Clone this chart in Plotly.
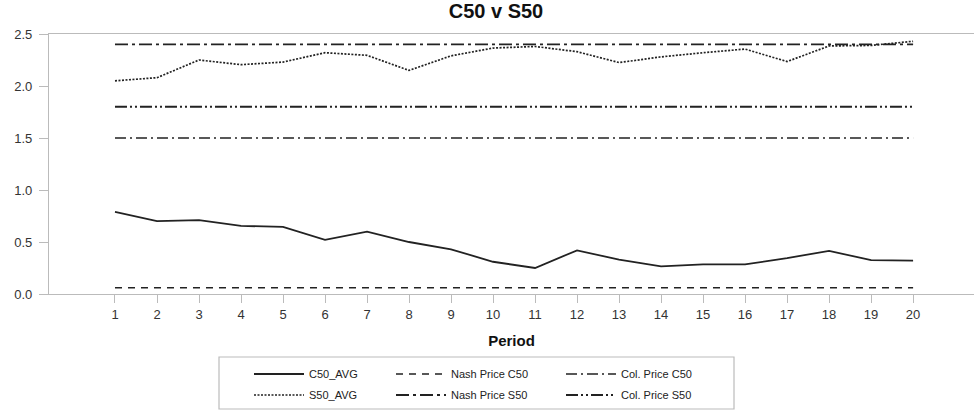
import plotly.graph_objects as go

periods = list(range(1, 21))
c50_avg = [0.79, 0.70, 0.71, 0.655, 0.645, 0.52, 0.60, 0.50, 0.43, 0.31,
           0.25, 0.42, 0.33, 0.265, 0.285, 0.285, 0.345, 0.415, 0.325, 0.32]
s50_avg = [2.05, 2.08, 2.25, 2.205, 2.23, 2.32, 2.295, 2.15, 2.29, 2.365,
           2.38, 2.33, 2.225, 2.28, 2.32, 2.355, 2.235, 2.385, 2.39, 2.43]
nash_c50 = 0.06
nash_s50 = 2.4
col_c50 = 1.5
col_s50 = 1.8

FONT = "Liberation Sans, Arial, sans-serif"
LC = "#222222"

W, H = 974, 412
ml, mr, mt, mb = 49, 0, 34, 118
pw = W - ml - mr
ph = H - mt - mb


def px_x(p):
    return (p - ml) / pw


def px_y(p):
    return (H - mb - p) / ph


# (name, values, dash, width, legend id, text-x px, row-y px)
series = [
    ("C50_AVG", c50_avg, "solid", 1.8, "legend", 310, 374),
    ("Nash Price C50", [nash_c50] * len(periods), "7px,6px", 1.7, "legend2", 452, 374),
    ("Col. Price C50", [col_c50] * len(periods), "11px,4px,2px,4px", 1.7, "legend3", 622, 374),
    ("S50_AVG", s50_avg, "2px,1.5px", 1.7, "legend4", 310, 395),
    ("Nash Price S50", [nash_s50] * len(periods), "13px,4px,3px,4px", 1.9, "legend5", 452, 395),
    ("Col. Price S50", [col_s50] * len(periods), "12px,3px,2px,3px,2px,3px", 1.9, "legend6", 622, 395),
]

fig = go.Figure()
legends = {}
for name, ys, dash, w, lg, tx, ty in series:
    fig.add_trace(go.Scatter(
        x=periods, y=ys, mode="lines", name=name, legend=lg,
        line=dict(color=LC, width=w, dash=dash),
    ))
    legends[lg] = dict(
        x=px_x(tx - 61), y=px_y(ty), xanchor="left", yanchor="middle",
        orientation="v", font=dict(family=FONT, size=11, color="#222"),
        bgcolor="rgba(0,0,0,0)", borderwidth=0, itemwidth=50,
    )

fig.update_layout(
    width=W, height=H,
    margin=dict(l=ml, r=mr, t=mt, b=mb),
    paper_bgcolor="white", plot_bgcolor="white",
    title=dict(text="<b>C50 v S50</b>", x=px_x(496) , xanchor="center",
               xref="paper", y=1 - 11 / H, yanchor="middle",
               font=dict(family=FONT, size=20, color="#111")),
    font=dict(family=FONT, size=13, color="#333"),
    xaxis=dict(
        range=[-0.571, 21.45], tickmode="array", tickvals=periods,
        ticktext=[str(p) for p in periods],
        showgrid=False, zeroline=False, showline=True, linecolor="#bbbbbb", linewidth=1.2,
        mirror=True, ticks="outside", ticklen=8, tickcolor="#bbbbbb",
        tickfont=dict(family=FONT, size=13, color="#333"),
        title=dict(text="<b>Period</b>", font=dict(family=FONT, size=15, color="#111"), standoff=14),
    ),
    yaxis=dict(
        range=[0, 2.5], tickmode="array", tickvals=[0, 0.5, 1.0, 1.5, 2.0, 2.5],
        tickformat=".1f", showgrid=False, zeroline=False, showline=True,
        linecolor="#bbbbbb", linewidth=1.2, ticks="outside", ticklen=9, tickcolor="#bbbbbb",
        tickfont=dict(family=FONT, size=13, color="#333"), ticklabelstandoff=4,
    ),
    showlegend=True,
    shapes=[dict(type="rect", xref="paper", yref="paper",
                 x0=px_x(219), x1=px_x(734), y0=px_y(409), y1=px_y(357),
                 line=dict(color="#bbbbbb", width=1.2), fillcolor="rgba(0,0,0,0)")],
    **legends,
)

fig.write_html("out.html")
